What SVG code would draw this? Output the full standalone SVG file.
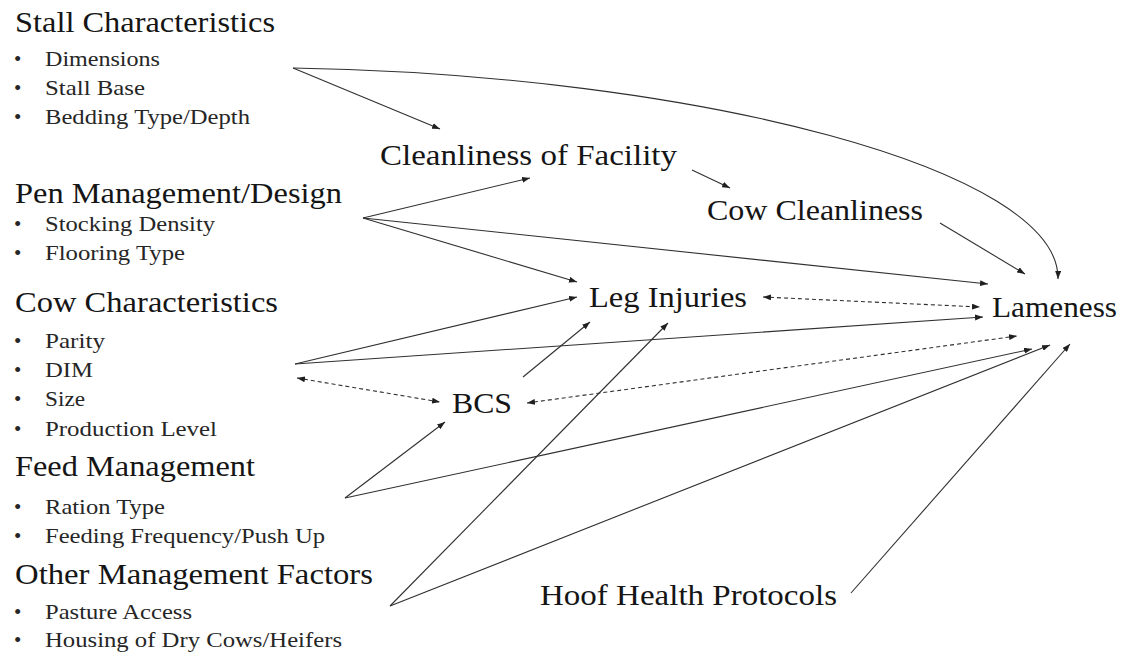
<svg xmlns="http://www.w3.org/2000/svg" width="1135" height="656" viewBox="0 0 1135 656" font-family="'Liberation Serif', Tinos, 'Times New Roman', Times, serif">
<style>
text{font-family:"Liberation Serif",Tinos,"Times New Roman",Times,serif;}
.h{font-size:29px;fill:#151515;}
.s{font-size:21px;fill:#262626;}
.b{font-size:21px;fill:#262626;}
.n{font-size:29px;fill:#151515;}
.c{fill:none;stroke:#303030;stroke-width:1.1;}
.d{fill:none;stroke:#303030;stroke-width:1.1;stroke-dasharray:4 3;}
</style>
<defs>
<marker id="arr" viewBox="0 0 8 6" refX="8" refY="3" markerWidth="8" markerHeight="6" markerUnits="userSpaceOnUse" orient="auto-start-reverse">
<path d="M0,0 L8,3 L0,6 z" fill="#202020"/>
</marker>
</defs>
<rect width="1135" height="656" fill="#ffffff"/>

<g id="connectors">
<path class="c" d="M293,68 L440,129" marker-end="url(#arr)"/>
<path class="c" d="M293,68 C700,75 1060,170 1058,279" marker-end="url(#arr)"/>
<path class="c" d="M363,218 L530,178" marker-end="url(#arr)"/>
<path class="c" d="M363,218 L577,282" marker-end="url(#arr)"/>
<path class="c" d="M363,218 L988,284" marker-end="url(#arr)"/>
<path class="c" d="M692,170 L730,188" marker-end="url(#arr)"/>
<path class="c" d="M940,223 L1025,274" marker-end="url(#arr)"/>
<path class="d" d="M763,297 L980,307" marker-start="url(#arr)" marker-end="url(#arr)"/>
<path class="c" d="M295,364 L577,297" marker-end="url(#arr)"/>
<path class="c" d="M295,364 L983,317" marker-end="url(#arr)"/>
<path class="d" d="M297,378 L440,402" marker-start="url(#arr)" marker-end="url(#arr)"/>
<path class="c" d="M523,377 L590,322" marker-end="url(#arr)"/>
<path class="d" d="M527,403 L1017,336" marker-start="url(#arr)" marker-end="url(#arr)"/>
<path class="c" d="M345,498 L445,422" marker-end="url(#arr)"/>
<path class="c" d="M345,498 L1032,349" marker-end="url(#arr)"/>
<path class="c" d="M390,606 L668,323" marker-end="url(#arr)"/>
<path class="c" d="M390,606 L1050,345" marker-end="url(#arr)"/>
<path class="c" d="M851,593 L1070,344" marker-end="url(#arr)"/>
</g>

<g id="stall-characteristics">
<text class="h" x="15" y="32" textLength="260" lengthAdjust="spacingAndGlyphs">Stall Characteristics</text>
<text class="b" x="14" y="66">•</text><text class="s" x="45" y="66" textLength="115" lengthAdjust="spacingAndGlyphs">Dimensions</text>
<text class="b" x="14" y="95">•</text><text class="s" x="45" y="95" textLength="100" lengthAdjust="spacingAndGlyphs">Stall Base</text>
<text class="b" x="14" y="124">•</text><text class="s" x="45" y="124" textLength="205" lengthAdjust="spacingAndGlyphs">Bedding Type/Depth</text>
</g>

<g id="pen-management">
<text class="h" x="15" y="203" textLength="327" lengthAdjust="spacingAndGlyphs">Pen Management/Design</text>
<text class="b" x="14" y="231">•</text><text class="s" x="45" y="231" textLength="170" lengthAdjust="spacingAndGlyphs">Stocking Density</text>
<text class="b" x="14" y="260">•</text><text class="s" x="45" y="260" textLength="140" lengthAdjust="spacingAndGlyphs">Flooring Type</text>
</g>

<g id="cow-characteristics">
<text class="h" x="15" y="312" textLength="263" lengthAdjust="spacingAndGlyphs">Cow Characteristics</text>
<text class="b" x="14" y="348">•</text><text class="s" x="45" y="348" textLength="60" lengthAdjust="spacingAndGlyphs">Parity</text>
<text class="b" x="14" y="377">•</text><text class="s" x="45" y="377" textLength="48" lengthAdjust="spacingAndGlyphs">DIM</text>
<text class="b" x="14" y="406">•</text><text class="s" x="45" y="406" textLength="40" lengthAdjust="spacingAndGlyphs">Size</text>
<text class="b" x="14" y="436">•</text><text class="s" x="45" y="436" textLength="172" lengthAdjust="spacingAndGlyphs">Production Level</text>
</g>

<g id="feed-management">
<text class="h" x="15" y="476" textLength="240" lengthAdjust="spacingAndGlyphs">Feed Management</text>
<text class="b" x="14" y="514">•</text><text class="s" x="45" y="514" textLength="120" lengthAdjust="spacingAndGlyphs">Ration Type</text>
<text class="b" x="14" y="543">•</text><text class="s" x="45" y="543" textLength="280" lengthAdjust="spacingAndGlyphs">Feeding Frequency/Push Up</text>
</g>

<g id="other-management">
<text class="h" x="15" y="584" textLength="358" lengthAdjust="spacingAndGlyphs">Other Management Factors</text>
<text class="b" x="14" y="619">•</text><text class="s" x="45" y="619" textLength="147" lengthAdjust="spacingAndGlyphs">Pasture Access</text>
<text class="b" x="14" y="647">•</text><text class="s" x="45" y="647" textLength="297" lengthAdjust="spacingAndGlyphs">Housing of Dry Cows/Heifers</text>
</g>

<g id="cleanliness-of-facility">
<text class="n" x="380" y="165" textLength="297" lengthAdjust="spacingAndGlyphs">Cleanliness of Facility</text>
</g>
<g id="cow-cleanliness">
<text class="n" x="707" y="220" textLength="216" lengthAdjust="spacingAndGlyphs">Cow Cleanliness</text>
</g>
<g id="leg-injuries">
<text class="n" x="589" y="307" textLength="158" lengthAdjust="spacingAndGlyphs">Leg Injuries</text>
</g>
<g id="lameness">
<text class="n" x="992" y="317" textLength="125" lengthAdjust="spacingAndGlyphs">Lameness</text>
</g>
<g id="bcs">
<text class="n" x="452" y="413" textLength="60" lengthAdjust="spacingAndGlyphs">BCS</text>
</g>
<g id="hoof-health-protocols">
<text class="n" x="540" y="605" textLength="297" lengthAdjust="spacingAndGlyphs">Hoof Health Protocols</text>
</g>
</svg>
